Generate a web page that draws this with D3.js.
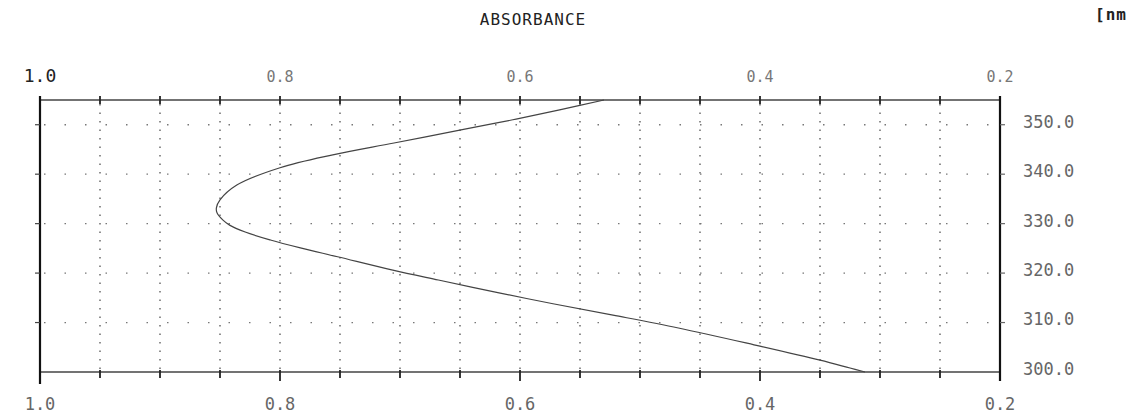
<!DOCTYPE html>
<style>
    body { margin: 0; background: #fff; }
    text { font-family: "DejaVu Sans Mono", monospace; }
    .lbl { font-size: 17px; fill: #666; }
    .title { font-size: 16px; fill: #222; letter-spacing: 1px; }
</style>
<svg width="1130" height="418"></svg>
<script src="https://d3js.org/d3.v7.min.js"></script>
<script>
    // wavelength (nm) vs absorbance
    var wavelength = [355.0, 353.0, 351.0, 349.1, 346.3, 343.9, 341.3, 337.8, 334.8, 333.2, 332.2,
        330.7, 329.7, 328.3, 326.7, 325.1, 323.3, 320.6, 318.6, 316.0, 313.8, 311.5, 308.9,
        305.5, 302.4, 300.8, 300.0];
    var absorbance = [0.530, 0.567, 0.606, 0.646, 0.705, 0.756, 0.800, 0.836, 0.850, 0.853, 0.8525,
        0.8475, 0.842, 0.829, 0.808, 0.783, 0.752, 0.706, 0.668, 0.6175, 0.5725, 0.5225, 0.468,
        0.405, 0.350, 0.325, 0.3125];
    var absTicks = [1.0, 0.8, 0.6, 0.4, 0.2];
    var nmTicks = [300, 310, 320, 330, 340, 350];

    var svg = d3.select('svg');
    var pLeft = 40, pRight = 1000, pTop = 100, pBottom = 372;

    var x = d3.scaleLinear().domain([1.0, 0.2]).range([pLeft, pRight]);
    var y = d3.scaleLinear().domain([300, 355]).range([pBottom, pTop]);

    var minor = d3.range(0, 17).map(function(i) { return +(1.0 - i * 0.05).toFixed(2); });

    // vertical dotted grid
    svg.append('g').selectAll('line')
        .data(minor.slice(1, -1))
        .enter().append('line')
        .attr('x1', function(d) { return x(d); })
        .attr('x2', function(d) { return x(d); })
        .attr('y1', pTop + 4).attr('y2', pBottom - 2)
        .attr('stroke', '#555').attr('stroke-width', 1.3)
        .attr('stroke-dasharray', '1.5,7');

    // horizontal dotted grid
    svg.append('g').selectAll('line')
        .data(nmTicks.slice(1))
        .enter().append('line')
        .attr('x1', pLeft + 4).attr('x2', pRight - 2)
        .attr('y1', function(d) { return y(d); })
        .attr('y2', function(d) { return y(d); })
        .attr('stroke', '#777').attr('stroke-width', 1.3)
        .attr('stroke-dasharray', '1.5,19');

    // top + bottom axis lines
    [pTop, pBottom].forEach(function(yy) {
        svg.append('line')
            .attr('x1', pLeft).attr('x2', pRight)
            .attr('y1', yy).attr('y2', yy)
            .attr('stroke', '#444').attr('stroke-width', 1.4);
    });

    // ticks on top and bottom
    svg.append('g').selectAll('line')
        .data(minor.slice(1, -1))
        .enter().append('line')
        .attr('x1', function(d) { return x(d); })
        .attr('x2', function(d) { return x(d); })
        .attr('y1', pTop - 4).attr('y2', pTop + 4)
        .attr('stroke', '#222').attr('stroke-width', 1.8);
    svg.append('g').selectAll('line')
        .data(minor.slice(1, -1))
        .enter().append('line')
        .attr('x1', function(d) { return x(d); })
        .attr('x2', function(d) { return x(d); })
        .attr('y1', pBottom - 2).attr('y2', function(d, i) { return (i % 4 == 3) ? pBottom + 9 : pBottom + 6; })
        .attr('stroke', '#222').attr('stroke-width', 1.8);

    // left + right frame
    svg.append('line').attr('x1', pLeft).attr('x2', pLeft).attr('y1', pTop - 4).attr('y2', pBottom + 12)
        .attr('stroke', '#111').attr('stroke-width', 2.2);
    svg.append('line').attr('x1', pRight).attr('x2', pRight).attr('y1', pTop - 4).attr('y2', pBottom + 9)
        .attr('stroke', '#111').attr('stroke-width', 2.2);

    // small ticks on the side frames
    svg.append('g').selectAll('line')
        .data(nmTicks.slice(1))
        .enter().append('line')
        .attr('x1', pLeft - 5).attr('x2', pLeft)
        .attr('y1', function(d) { return y(d); })
        .attr('y2', function(d) { return y(d); })
        .attr('stroke', '#444').attr('stroke-width', 1.2);
    svg.append('g').selectAll('line')
        .data(nmTicks.slice(1))
        .enter().append('line')
        .attr('x1', pRight).attr('x2', pRight + 5)
        .attr('y1', function(d) { return y(d); })
        .attr('y2', function(d) { return y(d); })
        .attr('stroke', '#666').attr('stroke-width', 1.2);

    // absorbance labels top and bottom
    svg.append('g').selectAll('text')
        .data(absTicks)
        .enter().append('text')
        .attr('class', 'lbl')
        .attr('x', function(d) { return x(d); })
        .attr('y', 82)
        .attr('text-anchor', 'middle')
        .style('fill', function(d) { return d == 1.0 ? '#222' : '#777'; })
        .style('font-size', function(d) { return d == 1.0 ? '18px' : '15px'; })
        .text(function(d) { return d.toFixed(1); });
    svg.append('g').selectAll('text')
        .data(absTicks)
        .enter().append('text')
        .attr('class', 'lbl')
        .attr('x', function(d) { return x(d); })
        .attr('y', 410)
        .attr('text-anchor', 'middle')
        .text(function(d) { return d.toFixed(1); });

    // wavelength labels on the right
    svg.append('g').selectAll('text')
        .data(nmTicks)
        .enter().append('text')
        .attr('class', 'lbl')
        .attr('x', 1023)
        .attr('y', function(d) { return y(d) - 3; })
        .attr('dy', '0.35em')
        .text(function(d) { return d.toFixed(1); });

    svg.append('text').attr('class', 'title')
        .attr('x', 533).attr('y', 25).attr('text-anchor', 'middle')
        .text('ABSORBANCE');
    svg.append('text').attr('class', 'title')
        .attr('x', 1095).attr('y', 20)
        .style('font-weight', 'bold')
        .text('[nm');

    // spectrum curve
    var pts = wavelength.map(function(w, i) { return [absorbance[i], w]; });
    var line = d3.line()
        .x(function(d) { return x(d[0]); })
        .y(function(d) { return y(d[1]); })
        .curve(d3.curveCatmullRom);
    svg.append('path')
        .datum(pts)
        .attr('d', line)
        .attr('fill', 'none')
        .attr('stroke', '#444')
        .attr('stroke-width', 1.2);
</script>
